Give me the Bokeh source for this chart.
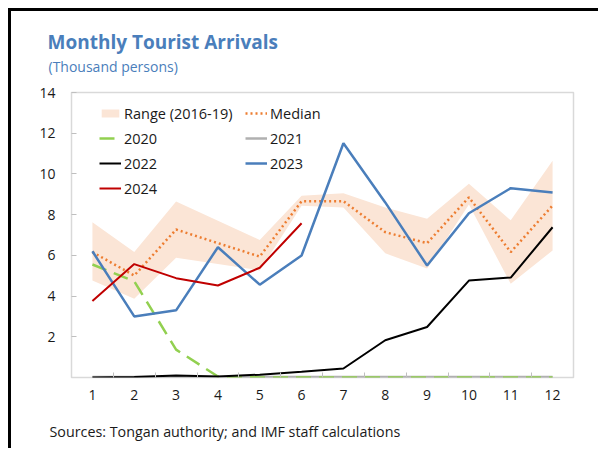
from bokeh.plotting import figure
from bokeh.models import Legend, LegendItem, FixedTicker, Title, Range1d
from bokeh.embed import file_html
from bokeh.resources import INLINE

months = [1, 2, 3, 4, 5, 6, 7, 8, 9, 10, 11, 12]
month_labels = ["1", "2", "3", "4", "5", "6", "7", "8", "9", "10", "11", "12"]
range_low = [4.76, 3.87, 5.88, 5.58, 5.26, 8.44, 8.35, 6.1, 5.35, 8.5, 4.6, 6.24]
range_high = [7.63, 6.16, 8.65, 7.7, 6.76, 8.93, 9.05, 8.35, 7.8, 9.52, 7.72, 10.65]
median = [6.16, 5.01, 7.27, 6.6, 5.94, 8.66, 8.66, 7.14, 6.6, 8.85, 6.16, 8.45]
y2020 = [5.55, 4.73, 1.37, 0.05, 0.0, 0.0, 0.0, 0.0, 0.0, 0.0, 0.0, 0.0]
y2021 = [0.02, 0.02, 0.02, 0.02, 0.02, 0.02, 0.02, 0.02, 0.02, 0.02, 0.02, 0.02]
y2022 = [0.0, 0.02, 0.1, 0.05, 0.14, 0.28, 0.44, 1.83, 2.48, 4.76, 4.91, 7.38]
y2023 = [6.2, 3.0, 3.3, 6.4, 4.56, 5.99, 11.51, 8.6, 5.5, 8.07, 9.3, 9.09]
months_2024 = [1, 2, 3, 4, 5, 6]
y2024 = [3.76, 5.57, 4.88, 4.52, 5.39, 7.58]
y_ticks = [2, 4, 6, 8, 10, 12, 14]

FONT = "Open Sans"
BLUE_T = "#4a7ebb"

p = figure(width=590, height=440, output_backend="svg", toolbar_location=None,
           x_range=Range1d(0.5, 12.5), y_range=Range1d(0, 14),
           min_border_left=60, min_border_right=28, min_border_top=81,
           min_border_bottom=74)
p.styles = {"border-left": "3px solid black", "border-top": "3px solid black",
            "margin-left": "8px", "margin-top": "8px"}
p.grid.visible = False
p.outline_line_color = "#d9d9d9"
p.outline_line_width = 1.5

band = p.varea(x=months, y1=range_low, y2=range_high, fill_color="#fbe5d6")
med = p.line(months, median, line_color="#ed7d31", line_width=2.5, line_dash="2 3")
r21 = p.line(months, y2021, line_color="#b0b0b0", line_width=2.5)
r20 = p.line(months, y2020, line_color="#92d050", line_width=2.5, line_dash="15 8")
r22 = p.line(months, y2022, line_color="#000000", line_width=2)
r23 = p.line(months, y2023, line_color="#4a7ebb", line_width=2.5)
r24 = p.line(months_2024, y2024, line_color="#c00000", line_width=2)

yax = p.yaxis[0]
yax.ticker = FixedTicker(ticks=y_ticks)
yax.axis_line_color = None
yax.major_tick_in = 5
yax.major_tick_out = 0
yax.major_tick_line_color = "#bfbfbf"
yax.minor_tick_line_color = None
yax.major_label_standoff = 16
yax.major_label_text_font = FONT
yax.major_label_text_font_size = "14px"
yax.major_label_text_color = "#1a1a1a"

xax = p.xaxis[0]
xax.ticker = FixedTicker(ticks=months, minor_ticks=[1.5, 2.5, 3.5, 4.5, 5.5, 6.5, 7.5, 8.5, 9.5, 10.5, 11.5])
xax.major_label_overrides = {m: l for m, l in zip(months, month_labels)}
xax.axis_line_color = None
xax.major_tick_in = 0
xax.major_tick_out = 0
xax.minor_tick_in = 5
xax.minor_tick_out = 0
xax.minor_tick_line_color = "#bfbfbf"
xax.major_label_standoff = 12
xax.major_label_text_font = FONT
xax.major_label_text_font_size = "14px"
xax.major_label_text_color = "#1a1a1a"

def mk_legend(items, loc, gh):
    lg = Legend(items=items, location=loc, border_line_color=None,
                background_fill_alpha=0, padding=0, margin=0, spacing=5,
                glyph_height=gh, glyph_width=22, label_height=20,
                label_standoff=3, label_text_font=FONT,
                label_text_font_size="14.5px", label_text_color="#1a1a1a")
    p.add_layout(lg)

mk_legend([LegendItem(label="Range (2016-19)", renderers=[band]),
           LegendItem(label="2020", renderers=[r20]),
           LegendItem(label="2022", renderers=[r22]),
           LegendItem(label="2024", renderers=[r24])], (28, 179), 10)
mk_legend([LegendItem(label="Median", renderers=[med]),
           LegendItem(label="2021", renderers=[r21]),
           LegendItem(label="2023", renderers=[r23])], (174, 204), 20)

p.add_layout(Title(text=" ", text_font=FONT, text_font_size="11px",
                   text_color="white", standoff=0), "above")
p.add_layout(Title(text="(Thousand persons)", text_font=FONT, text_font_size="14px",
                   text_font_style="normal", text_color=BLUE_T, align="left",
                   offset=-23, standoff=0), "above")
p.add_layout(Title(text="Monthly Tourist Arrivals", text_font=FONT, text_font_size="19px",
                   text_font_style="bold", text_color=BLUE_T, align="left",
                   offset=-24, standoff=0), "above")
p.add_layout(Title(text=" ", text_font=FONT, text_font_size="11px",
                   text_color="white", standoff=0), "below")
p.add_layout(Title(text="Sources: Tongan authority; and IMF staff calculations",
                   text_font=FONT, text_font_size="14.3px", text_font_style="normal",
                   text_color="#1a1a1a", align="left", offset=-22, standoff=0), "below")

open("out.html", "w").write(file_html(p, INLINE))
